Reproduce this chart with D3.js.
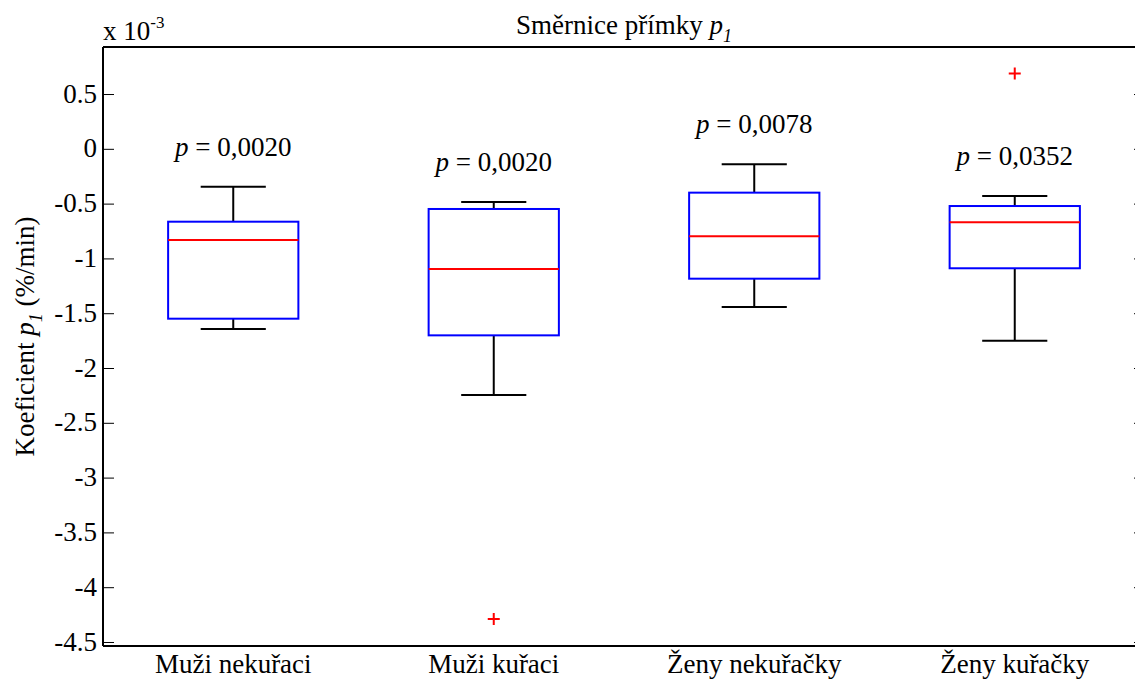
<!DOCTYPE html>
<html>
<head>
<script src="https://cdn.jsdelivr.net/npm/d3@7"></script>
</head>
<body style="margin:0">
<svg id="s" width="1135" height="679"></svg>
<script>
// Groups and box-plot statistics (values in units of 1e-3 %/min)
const groups = ["Muži nekuřaci", "Muži kuřaci", "Ženy nekuřačky", "Ženy kuřačky"];
const whiskerHigh = [-0.346, -0.485, -0.140, -0.431];
const q3 = [-0.665, -0.549, -0.400, -0.522];
const median = [-0.832, -1.097, -0.798, -0.671];
const q1 = [-1.550, -1.702, -1.185, -1.090];
const whiskerLow = [-1.644, -2.246, -1.443, -1.751];
const outliers = [[], [-4.29], [], [0.687]];
const pValues = ["0,0020", "0,0020", "0,0078", "0,0352"];
const yTicks = [0.5, 0, -0.5, -1, -1.5, -2, -2.5, -3, -3.5, -4, -4.5];

const svg = d3.select("#s");
const plotLeft = 103, plotRight = 1145, plotTop = 47, plotBottom = 646;

const x = d3.scaleLinear().domain([0.5, 4.5]).range([plotLeft, plotRight]);
const y = d3.scaleLinear().domain([-4.5365, 0.929]).range([plotBottom, plotTop]);

const fontSize = 27;
const styleText = sel => sel
  .style("font-family", "'Liberation Serif'")
  .style("font-size", fontSize + "px");

// Axes frame
[[plotLeft, plotTop, plotRight, plotTop], [plotLeft, plotBottom, plotRight, plotBottom],
 [plotLeft, plotTop, plotLeft, plotBottom], [plotRight, plotTop, plotRight, plotBottom]]
  .forEach(([x1, y1, x2, y2]) => {
    svg.append("line").attr("x1", x1).attr("y1", y1).attr("x2", x2).attr("y2", y2)
      .attr("stroke", "#000").attr("stroke-width", 2);
  });

// Y axis tick marks (inward) and tick labels
const gy = svg.append("g").attr("transform", `translate(${plotLeft},0)`)
  .call(d3.axisLeft(y).tickValues(yTicks).tickSize(-11).tickFormat(""));
gy.select(".domain").remove();
gy.selectAll(".tick line").attr("stroke", "#000").attr("stroke-width", 1);
yTicks.forEach(v => {
  svg.append("text").attr("x", plotLeft - 6).attr("y", y(v)).attr("dy", "0.32em")
    .attr("text-anchor", "end").call(styleText).text(v === 0 ? "0" : String(v));
});

// Right-side ticks
const gyR = svg.append("g").attr("transform", `translate(${plotRight},0)`)
  .call(d3.axisRight(y).tickValues(yTicks).tickSize(-11).tickFormat(""));
gyR.select(".domain").remove();
gyR.selectAll(".tick line").attr("stroke", "#000").attr("stroke-width", 1);

// X category labels
groups.forEach((g, i) => {
  svg.append("text").attr("x", x(i + 1)).attr("y", plotBottom + 27)
    .attr("text-anchor", "middle").call(styleText).text(g);
});

// Box plots
const boxHalf = 0.25, capHalf = 0.125;
const boxes = svg.append("g");
groups.forEach((g, i) => {
  const c = i + 1;
  const gg = boxes.append("g");
  // whiskers
  gg.append("line").attr("x1", x(c)).attr("x2", x(c)).attr("y1", y(whiskerHigh[i])).attr("y2", y(q3[i]))
    .attr("stroke", "#000").attr("stroke-width", 2);
  gg.append("line").attr("x1", x(c)).attr("x2", x(c)).attr("y1", y(q1[i])).attr("y2", y(whiskerLow[i]))
    .attr("stroke", "#000").attr("stroke-width", 2);
  gg.append("line").attr("x1", x(c - capHalf)).attr("x2", x(c + capHalf))
    .attr("y1", y(whiskerHigh[i])).attr("y2", y(whiskerHigh[i]))
    .attr("stroke", "#000").attr("stroke-width", 2);
  gg.append("line").attr("x1", x(c - capHalf)).attr("x2", x(c + capHalf))
    .attr("y1", y(whiskerLow[i])).attr("y2", y(whiskerLow[i]))
    .attr("stroke", "#000").attr("stroke-width", 2);
  // box
  gg.append("rect").attr("x", x(c - boxHalf)).attr("y", y(q3[i]))
    .attr("width", x(c + boxHalf) - x(c - boxHalf)).attr("height", y(q1[i]) - y(q3[i]))
    .attr("fill", "none").attr("stroke", "#0000ff").attr("stroke-width", 2);
  // median
  gg.append("line").attr("x1", x(c - boxHalf)).attr("x2", x(c + boxHalf))
    .attr("y1", y(median[i])).attr("y2", y(median[i]))
    .attr("stroke", "#ff0000").attr("stroke-width", 2);
  // outliers
  outliers[i].forEach(v => {
    const px = x(c), py = y(v);
    gg.append("path").attr("d", `M${px - 6},${py}H${px + 6}M${px},${py - 6}V${py + 6}`)
      .attr("stroke", "#ff0000").attr("stroke-width", 2).attr("fill", "none");
  });
  // p-value annotation
  const t = svg.append("text").attr("x", x(c)).attr("y", y(whiskerHigh[i]) - 31)
    .attr("text-anchor", "middle").call(styleText);
  t.append("tspan").style("font-style", "italic").text("p");
  t.append("tspan").text(" = " + pValues[i]);
});

// Title
const title = svg.append("text").attr("x", (plotLeft + plotRight) / 2).attr("y", 34)
  .attr("text-anchor", "middle").call(styleText);
title.append("tspan").text("Směrnice přímky ");
title.append("tspan").style("font-style", "italic").text("p");
title.append("tspan").style("font-style", "italic").style("font-size", "18px").attr("dy", 8).text("1");

// Exponent label
const expo = svg.append("text").attr("x", plotLeft).attr("y", 40).call(styleText);
expo.append("tspan").text("x 10");
expo.append("tspan").style("font-size", "17px").attr("dy", -12).text("-3");

// Y axis label
const yl = svg.append("text")
  .attr("transform", `translate(34,${(plotTop + plotBottom) / 2 - 10}) rotate(-90)`)
  .attr("text-anchor", "middle").call(styleText);
yl.append("tspan").text("Koeficient ");
yl.append("tspan").style("font-style", "italic").text("p");
yl.append("tspan").style("font-style", "italic").style("font-size", "18px").attr("dy", 8).text("1");
yl.append("tspan").attr("dy", -8).text(" (%/min)");
</script>
</body>
</html>
